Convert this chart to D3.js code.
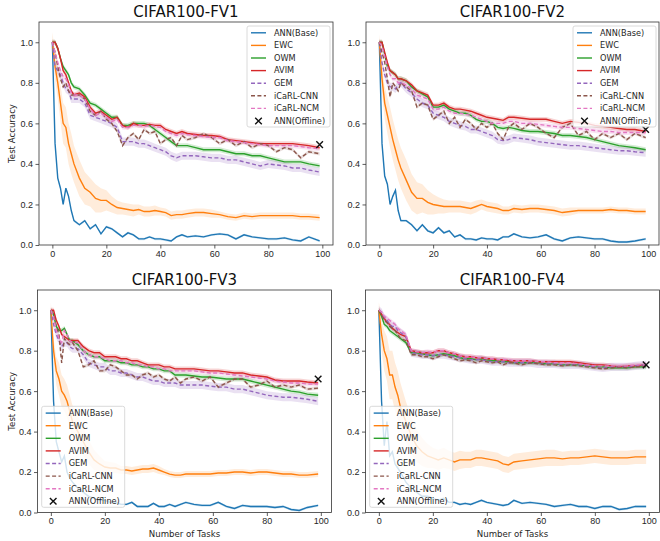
<!DOCTYPE html>
<html lang="en">
<head>
<meta charset="UTF-8" />
<title>CIFAR100 FV1-FV4</title>
<script src="https://d3js.org/d3.v7.min.js"></script>
<style>
  body { margin: 0; background: #fff; }
  svg { display: block; font-family: "DejaVu Sans", sans-serif; }
  .tick text { font-size: 9px; fill: #262626; }
  .tick line { stroke: #333; stroke-width: 0.8; }
  .frame { fill: none; stroke: #333; stroke-width: 0.8; }
  .title { font-size: 15px; fill: #111; }
  .axis-label { font-size: 8.6px; fill: #262626; }
  .legend text { font-size: 8.2px; fill: #262626; }
</style>
</head>
<body>
<div id="chart"></div>
<script>
const tasks = [0,1,2,3,4,5,6,7,8,10,12,14,16,18,20,22,24,26,28,30,32,34,36,38,40,42,44,46,48,50,53,56,59,62,65,68,71,74,77,80,83,86,89,92,95,99];

const seriesNames = ['ANN(Base)', 'EWC', 'OWM', 'AVIM', 'GEM', 'iCaRL-CNN', 'iCaRL-NCM'];
const seriesColors = ['#1f77b4', '#ff7f0e', '#2ca02c', '#d62728', '#9467bd', '#8c564b', '#e377c2'];
const seriesDashed = [false, false, false, false, true, true, true];
// std band half-width for every method except EWC (EWC has its own arrays)
const otherStd = [0.006, 0, 0.012, 0.012, 0.02, 0.008, 0.012];

const xTicks = [0, 20, 40, 60, 80, 100];
const yTicks = [0, 0.2, 0.4, 0.6, 0.8, 1.0];

// ---- CIFAR100-FV1
const fv1Base = [1.0,0.5,0.33,0.28,0.2,0.28,0.24,0.17,0.12,0.1,0.12,0.08,0.1,0.055,0.09,0.08,0.06,0.04,0.06,0.05,0.03,0.03,0.04,0.03,0.03,0.025,0.02,0.04,0.05,0.04,0.045,0.04,0.05,0.055,0.05,0.03,0.05,0.04,0.035,0.03,0.03,0.035,0.025,0.02,0.04,0.02];
const fv1Ewc = [1.0,0.88,0.8,0.7,0.6,0.58,0.5,0.45,0.4,0.33,0.28,0.26,0.23,0.22,0.22,0.2,0.185,0.18,0.175,0.17,0.175,0.165,0.165,0.17,0.165,0.16,0.145,0.15,0.15,0.155,0.16,0.16,0.155,0.15,0.14,0.135,0.145,0.14,0.145,0.145,0.145,0.145,0.145,0.14,0.14,0.135];
const fv1EwcStd = [0.05,0.07,0.08,0.09,0.1,0.1,0.1,0.1,0.09,0.09,0.08,0.07,0.07,0.06,0.05,0.04,0.035,0.03,0.03,0.03,0.025,0.025,0.025,0.025,0.02,0.02,0.02,0.02,0.02,0.02,0.02,0.02,0.02,0.015,0.015,0.015,0.015,0.015,0.015,0.015,0.015,0.015,0.015,0.015,0.015,0.015];
const fv1Owm = [1.0,1.0,0.97,0.92,0.88,0.86,0.84,0.8,0.78,0.77,0.74,0.7,0.69,0.67,0.65,0.63,0.63,0.59,0.59,0.6,0.6,0.6,0.59,0.57,0.55,0.53,0.51,0.49,0.49,0.49,0.48,0.47,0.47,0.47,0.46,0.45,0.45,0.44,0.44,0.43,0.42,0.41,0.41,0.41,0.4,0.39];
const fv1Avim = [1.0,1.0,0.97,0.92,0.86,0.84,0.8,0.76,0.74,0.75,0.73,0.68,0.65,0.66,0.64,0.62,0.63,0.59,0.58,0.6,0.59,0.59,0.595,0.59,0.59,0.57,0.56,0.55,0.56,0.55,0.545,0.54,0.54,0.535,0.52,0.515,0.51,0.505,0.5,0.5,0.5,0.5,0.5,0.495,0.49,0.48];
const fv1Gem = [1.0,0.88,0.86,0.84,0.8,0.77,0.76,0.72,0.72,0.72,0.7,0.64,0.63,0.62,0.61,0.6,0.58,0.51,0.51,0.51,0.5,0.5,0.49,0.48,0.47,0.46,0.44,0.43,0.44,0.44,0.44,0.435,0.43,0.43,0.42,0.42,0.41,0.4,0.39,0.4,0.395,0.39,0.38,0.38,0.37,0.36];
const fv1Cnn = [1.0,0.95,0.88,0.82,0.78,0.8,0.76,0.74,0.74,0.74,0.72,0.66,0.64,0.66,0.62,0.6,0.56,0.49,0.53,0.55,0.52,0.57,0.55,0.56,0.5,0.52,0.53,0.49,0.54,0.52,0.53,0.55,0.53,0.5,0.52,0.49,0.51,0.48,0.5,0.49,0.46,0.48,0.47,0.43,0.46,0.45];
const fv1Ncm = [1.0,0.95,0.9,0.86,0.83,0.82,0.79,0.75,0.74,0.74,0.72,0.67,0.64,0.65,0.63,0.61,0.62,0.58,0.58,0.59,0.59,0.585,0.59,0.585,0.58,0.56,0.55,0.54,0.55,0.545,0.54,0.535,0.53,0.53,0.515,0.51,0.505,0.5,0.495,0.49,0.49,0.49,0.49,0.485,0.48,0.475];
const fv1Offline = 0.495;

// ---- CIFAR100-FV2
const fv2Base = [1.0,0.5,0.34,0.3,0.2,0.24,0.27,0.17,0.12,0.12,0.1,0.07,0.1,0.07,0.06,0.085,0.06,0.07,0.04,0.05,0.03,0.03,0.025,0.035,0.03,0.03,0.025,0.04,0.04,0.055,0.04,0.035,0.04,0.05,0.03,0.02,0.035,0.04,0.035,0.03,0.03,0.02,0.015,0.015,0.02,0.03];
const fv2Ewc = [1.0,0.82,0.7,0.64,0.58,0.52,0.47,0.42,0.38,0.32,0.26,0.23,0.23,0.21,0.2,0.195,0.19,0.19,0.19,0.19,0.185,0.18,0.19,0.2,0.19,0.185,0.18,0.17,0.17,0.18,0.175,0.18,0.18,0.175,0.17,0.16,0.165,0.17,0.17,0.17,0.17,0.175,0.17,0.17,0.165,0.165];
const fv2EwcStd = [0.04,0.07,0.08,0.09,0.1,0.1,0.1,0.1,0.1,0.1,0.09,0.08,0.07,0.06,0.05,0.04,0.035,0.03,0.03,0.03,0.03,0.03,0.03,0.025,0.025,0.025,0.025,0.02,0.02,0.02,0.02,0.02,0.02,0.02,0.02,0.02,0.02,0.015,0.015,0.015,0.015,0.015,0.015,0.015,0.015,0.015];
const fv2Owm = [1.0,1.0,0.94,0.88,0.86,0.85,0.84,0.82,0.82,0.81,0.78,0.76,0.745,0.73,0.68,0.68,0.69,0.67,0.66,0.65,0.65,0.64,0.62,0.61,0.61,0.6,0.58,0.575,0.58,0.575,0.565,0.56,0.56,0.555,0.55,0.54,0.54,0.535,0.53,0.52,0.51,0.5,0.49,0.485,0.48,0.47];
const fv2Avim = [1.0,1.0,0.95,0.9,0.86,0.85,0.84,0.82,0.82,0.81,0.79,0.76,0.75,0.74,0.69,0.69,0.7,0.68,0.67,0.67,0.665,0.66,0.65,0.64,0.63,0.625,0.62,0.615,0.63,0.63,0.625,0.62,0.62,0.62,0.61,0.6,0.61,0.605,0.6,0.59,0.585,0.58,0.575,0.57,0.57,0.56];
const fv2Gem = [1.0,0.9,0.84,0.8,0.78,0.78,0.77,0.79,0.8,0.77,0.75,0.72,0.7,0.69,0.65,0.64,0.63,0.61,0.6,0.59,0.585,0.57,0.57,0.56,0.55,0.54,0.52,0.515,0.52,0.53,0.525,0.52,0.51,0.505,0.5,0.495,0.49,0.49,0.485,0.48,0.475,0.47,0.465,0.465,0.46,0.455];
const fv2Cnn = [1.0,0.95,0.9,0.82,0.73,0.8,0.78,0.76,0.8,0.78,0.76,0.68,0.7,0.69,0.62,0.64,0.66,0.6,0.63,0.58,0.62,0.6,0.57,0.6,0.58,0.6,0.55,0.52,0.58,0.6,0.57,0.6,0.58,0.55,0.53,0.58,0.6,0.54,0.56,0.52,0.55,0.53,0.55,0.52,0.55,0.53];
const fv2Ncm = [1.0,0.98,0.93,0.88,0.84,0.82,0.82,0.8,0.8,0.79,0.77,0.74,0.73,0.72,0.67,0.67,0.68,0.66,0.65,0.65,0.645,0.64,0.63,0.62,0.61,0.6,0.6,0.6,0.61,0.61,0.6,0.6,0.595,0.59,0.585,0.58,0.58,0.575,0.57,0.565,0.56,0.56,0.555,0.555,0.555,0.555];
const fv2Offline = 0.57;

// ---- CIFAR100-FV3
const fv3Base = [1.0,0.55,0.35,0.3,0.25,0.28,0.2,0.17,0.15,0.12,0.1,0.08,0.07,0.06,0.06,0.05,0.05,0.04,0.04,0.05,0.03,0.03,0.03,0.045,0.03,0.03,0.04,0.03,0.04,0.05,0.04,0.035,0.035,0.05,0.03,0.02,0.035,0.03,0.03,0.03,0.025,0.03,0.015,0.01,0.025,0.035];
const fv3Ewc = [1.0,0.8,0.7,0.66,0.6,0.58,0.55,0.5,0.45,0.4,0.35,0.3,0.26,0.24,0.225,0.22,0.22,0.21,0.21,0.205,0.21,0.215,0.215,0.22,0.21,0.2,0.19,0.185,0.185,0.19,0.19,0.19,0.19,0.195,0.195,0.2,0.2,0.195,0.2,0.2,0.195,0.19,0.19,0.185,0.185,0.19];
const fv3EwcStd = [0.04,0.06,0.07,0.08,0.08,0.08,0.08,0.08,0.08,0.08,0.07,0.06,0.05,0.04,0.03,0.03,0.025,0.02,0.02,0.02,0.02,0.02,0.02,0.02,0.02,0.015,0.015,0.015,0.015,0.015,0.015,0.015,0.015,0.015,0.015,0.015,0.015,0.015,0.015,0.015,0.015,0.015,0.015,0.015,0.015,0.015];
const fv3Owm = [1.0,0.98,0.92,0.9,0.9,0.91,0.88,0.85,0.85,0.83,0.8,0.78,0.77,0.77,0.75,0.75,0.75,0.74,0.74,0.73,0.73,0.72,0.72,0.71,0.71,0.7,0.7,0.68,0.68,0.68,0.675,0.67,0.67,0.665,0.66,0.66,0.66,0.65,0.64,0.63,0.62,0.61,0.6,0.595,0.585,0.58];
const fv3Avim = [1.0,1.0,0.95,0.92,0.88,0.87,0.86,0.85,0.85,0.85,0.82,0.8,0.79,0.79,0.77,0.77,0.77,0.76,0.76,0.75,0.75,0.74,0.73,0.73,0.73,0.72,0.72,0.71,0.71,0.71,0.71,0.705,0.7,0.7,0.695,0.69,0.69,0.68,0.675,0.67,0.655,0.65,0.65,0.65,0.645,0.64];
const fv3Gem = [1.0,0.93,0.88,0.85,0.82,0.84,0.84,0.82,0.81,0.81,0.78,0.74,0.73,0.72,0.72,0.7,0.7,0.69,0.69,0.68,0.67,0.67,0.66,0.65,0.65,0.64,0.64,0.64,0.63,0.63,0.63,0.63,0.625,0.62,0.62,0.61,0.61,0.6,0.59,0.58,0.575,0.57,0.57,0.565,0.56,0.55];
const fv3Cnn = [1.0,0.97,0.92,0.88,0.74,0.86,0.84,0.83,0.84,0.8,0.72,0.73,0.75,0.7,0.7,0.73,0.72,0.7,0.68,0.68,0.66,0.68,0.69,0.67,0.68,0.66,0.65,0.67,0.64,0.66,0.67,0.65,0.67,0.62,0.64,0.66,0.66,0.62,0.63,0.65,0.62,0.63,0.62,0.63,0.61,0.615];
const fv3Ncm = [1.0,0.97,0.9,0.86,0.84,0.9,0.88,0.85,0.84,0.84,0.8,0.78,0.77,0.77,0.76,0.75,0.75,0.75,0.74,0.74,0.73,0.73,0.72,0.72,0.71,0.71,0.7,0.7,0.7,0.7,0.7,0.695,0.69,0.69,0.685,0.68,0.675,0.67,0.665,0.66,0.65,0.645,0.64,0.64,0.635,0.635];
const fv3Offline = 0.66;

// ---- CIFAR100-FV4
const fv4Base = [1.0,0.55,0.33,0.45,0.28,0.3,0.24,0.22,0.2,0.15,0.12,0.1,0.08,0.08,0.07,0.06,0.07,0.05,0.05,0.04,0.045,0.04,0.05,0.06,0.05,0.045,0.04,0.035,0.04,0.06,0.045,0.05,0.045,0.04,0.03,0.035,0.04,0.03,0.03,0.02,0.03,0.03,0.015,0.02,0.03,0.03];
const fv4Ewc = [1.0,0.88,0.8,0.76,0.68,0.68,0.62,0.58,0.52,0.45,0.38,0.33,0.3,0.28,0.27,0.26,0.27,0.26,0.25,0.26,0.26,0.26,0.27,0.27,0.265,0.26,0.255,0.24,0.235,0.25,0.255,0.26,0.265,0.27,0.27,0.265,0.27,0.27,0.275,0.28,0.275,0.27,0.27,0.27,0.275,0.275];
const fv4EwcStd = [0.04,0.08,0.1,0.11,0.12,0.12,0.12,0.12,0.12,0.1,0.09,0.08,0.07,0.06,0.05,0.05,0.05,0.045,0.045,0.045,0.04,0.04,0.04,0.04,0.04,0.04,0.04,0.04,0.04,0.04,0.04,0.04,0.04,0.04,0.04,0.035,0.035,0.035,0.035,0.035,0.035,0.035,0.035,0.035,0.035,0.035];
const fv4Owm = [1.0,0.97,0.93,0.92,0.9,0.89,0.88,0.87,0.86,0.84,0.79,0.79,0.785,0.78,0.775,0.78,0.785,0.78,0.775,0.765,0.76,0.76,0.755,0.76,0.755,0.75,0.75,0.745,0.745,0.74,0.74,0.74,0.74,0.735,0.735,0.73,0.73,0.73,0.725,0.72,0.72,0.715,0.715,0.715,0.72,0.72];
const fv4Avim = [1.0,0.98,0.96,0.94,0.93,0.91,0.9,0.89,0.88,0.87,0.8,0.795,0.79,0.79,0.79,0.8,0.8,0.79,0.785,0.775,0.77,0.77,0.765,0.765,0.76,0.76,0.755,0.755,0.75,0.75,0.75,0.75,0.745,0.745,0.745,0.745,0.745,0.74,0.735,0.73,0.73,0.725,0.72,0.725,0.725,0.73];
const fv4Gem = [1.0,0.99,0.96,0.95,0.93,0.92,0.92,0.9,0.89,0.87,0.79,0.785,0.78,0.78,0.775,0.78,0.78,0.775,0.77,0.765,0.76,0.755,0.755,0.755,0.75,0.745,0.745,0.745,0.74,0.74,0.74,0.74,0.735,0.735,0.735,0.73,0.73,0.73,0.725,0.72,0.715,0.72,0.72,0.72,0.725,0.73];
const fv4Cnn = [1.0,0.98,0.95,0.94,0.92,0.91,0.9,0.88,0.86,0.85,0.78,0.78,0.77,0.77,0.76,0.77,0.78,0.77,0.76,0.75,0.755,0.75,0.74,0.75,0.745,0.74,0.745,0.73,0.74,0.74,0.73,0.74,0.735,0.73,0.73,0.725,0.73,0.725,0.72,0.715,0.71,0.715,0.72,0.715,0.72,0.725];
const fv4Ncm = [1.0,0.99,0.97,0.96,0.95,0.94,0.93,0.91,0.9,0.88,0.8,0.795,0.79,0.795,0.79,0.8,0.8,0.79,0.785,0.775,0.77,0.77,0.765,0.765,0.76,0.76,0.755,0.755,0.755,0.75,0.75,0.75,0.745,0.745,0.74,0.74,0.74,0.735,0.73,0.725,0.725,0.725,0.725,0.725,0.73,0.73];
const fv4Offline = 0.73;

const W = 660, H = 541;

const panels = [
  { title: 'CIFAR100-FV1', series: [fv1Base, fv1Ewc, fv1Owm, fv1Avim, fv1Gem, fv1Cnn, fv1Ncm], ewcStd: fv1EwcStd, offline: fv1Offline,
    l: 39, r: 333, t: 22, b: 245, legend: 'tr', yLabel: true, xLabel: false },
  { title: 'CIFAR100-FV2', series: [fv2Base, fv2Ewc, fv2Owm, fv2Avim, fv2Gem, fv2Cnn, fv2Ncm], ewcStd: fv2EwcStd, offline: fv2Offline,
    l: 366, r: 659, t: 22, b: 245, legend: 'tr', yLabel: false, xLabel: false },
  { title: 'CIFAR100-FV3', series: [fv3Base, fv3Ewc, fv3Owm, fv3Avim, fv3Gem, fv3Cnn, fv3Ncm], ewcStd: fv3EwcStd, offline: fv3Offline,
    l: 37.5, r: 331.5, t: 290, b: 512.5, legend: 'bl', yLabel: true, xLabel: true },
  { title: 'CIFAR100-FV4', series: [fv4Base, fv4Ewc, fv4Owm, fv4Avim, fv4Gem, fv4Cnn, fv4Ncm], ewcStd: fv4EwcStd, offline: fv4Offline,
    l: 365.5, r: 659.5, t: 290, b: 512.5, legend: 'bl', yLabel: false, xLabel: true }
];

const svg = d3.select('#chart').append('svg')
  .attr('width', W).attr('height', H);

svg.append('rect').attr('width', W).attr('height', H).attr('fill', '#fff');

function xMark(g, cx, cy, s, color) {
  g.append('path')
    .attr('d', `M${cx - s},${cy - s}L${cx + s},${cy + s}M${cx - s},${cy + s}L${cx + s},${cy - s}`)
    .attr('stroke', color).attr('stroke-width', 1.4).attr('fill', 'none');
}

panels.forEach((p, pi) => {
  const x = d3.scaleLinear().domain([-4.95, 103.95]).range([p.l, p.r]);
  const y = d3.scaleLinear().domain([0, 1.1]).range([p.b, p.t]);
  const g = svg.append('g');

  const clipId = 'clip' + pi;
  g.append('clipPath').attr('id', clipId)
    .append('rect').attr('x', p.l).attr('y', p.t).attr('width', p.r - p.l).attr('height', p.b - p.t);

  const plot = g.append('g').attr('clip-path', `url(#${clipId})`);

  // std bands
  p.series.forEach((vals, si) => {
    const std = si === 1 ? p.ewcStd : tasks.map(() => otherStd[si]);
    const area = d3.area()
      .x((d, i) => x(tasks[i]))
      .y0((d, i) => y(d - std[i]))
      .y1((d, i) => y(d + std[i]));
    plot.append('path')
      .attr('d', area(vals))
      .attr('fill', seriesColors[si])
      .attr('fill-opacity', si === 1 ? 0.15 : 0.2)
      .attr('stroke', 'none');
  });

  // mean curves
  const line = d3.line().x((d, i) => x(tasks[i])).y(d => y(d));
  p.series.forEach((vals, si) => {
    plot.append('path')
      .attr('d', line(vals))
      .attr('fill', 'none')
      .attr('stroke', seriesColors[si])
      .attr('stroke-width', 1.4)
      .attr('stroke-dasharray', seriesDashed[si] ? '4,2.4' : null);
  });

  xMark(g, x(99), y(p.offline), 3.3, '#111');

  // axes
  g.append('g')
    .attr('transform', `translate(0,${p.b})`)
    .call(d3.axisBottom(x).tickValues(xTicks).tickFormat(d3.format('d')).tickSize(3.5).tickPadding(2))
    .call(a => a.select('.domain').remove());
  g.append('g')
    .attr('transform', `translate(${p.l},0)`)
    .call(d3.axisLeft(y).tickValues(yTicks).tickFormat(d3.format('.1f')).tickSize(3.5).tickPadding(2.5))
    .call(a => a.select('.domain').remove());

  g.append('rect').attr('class', 'frame')
    .attr('x', p.l).attr('y', p.t).attr('width', p.r - p.l).attr('height', p.b - p.t);

  g.append('text').attr('class', 'title')
    .attr('x', (p.l + p.r) / 2).attr('y', p.t - 5)
    .attr('text-anchor', 'middle')
    .text(p.title);

  if (p.yLabel) {
    g.append('text').attr('class', 'axis-label')
      .attr('transform', `translate(15,${(p.t + p.b) / 2}) rotate(-90)`)
      .attr('text-anchor', 'middle')
      .text('Test Accuracy');
  }
  if (p.xLabel) {
    g.append('text').attr('class', 'axis-label')
      .attr('x', (p.l + p.r) / 2).attr('y', p.b + 24)
      .attr('text-anchor', 'middle')
      .text('Number of Tasks');
  }

  // legend
  const lw = 83, lh = 101;
  const lx = p.legend === 'tr' ? p.r - 3 - lw : p.l + 4.2;
  const ly = p.legend === 'tr' ? p.t + 4 : p.b - 5.2 - lh;
  const leg = g.append('g').attr('class', 'legend').attr('transform', `translate(${lx},${ly})`);
  leg.append('rect')
    .attr('width', lw).attr('height', lh).attr('rx', 2)
    .attr('fill', '#fff').attr('fill-opacity', 0.8)
    .attr('stroke', '#d0d0d0').attr('stroke-width', 0.8);

  const labels = seriesNames.concat(['ANN(Offline)']);
  labels.forEach((name, i) => {
    const cy = 6.8 + i * 12.6;
    if (i < seriesNames.length) {
      leg.append('line')
        .attr('x1', 4).attr('x2', 19).attr('y1', cy).attr('y2', cy)
        .attr('stroke', seriesColors[i]).attr('stroke-width', 1.4)
        .attr('stroke-dasharray', seriesDashed[i] ? '4,2.4' : null);
    } else {
      xMark(leg, 11.5, cy, 3.3, '#111');
    }
    leg.append('text')
      .attr('x', 27).attr('y', cy).attr('dy', '0.35em')
      .text(name);
  });
});
</script>
</body>
</html>
